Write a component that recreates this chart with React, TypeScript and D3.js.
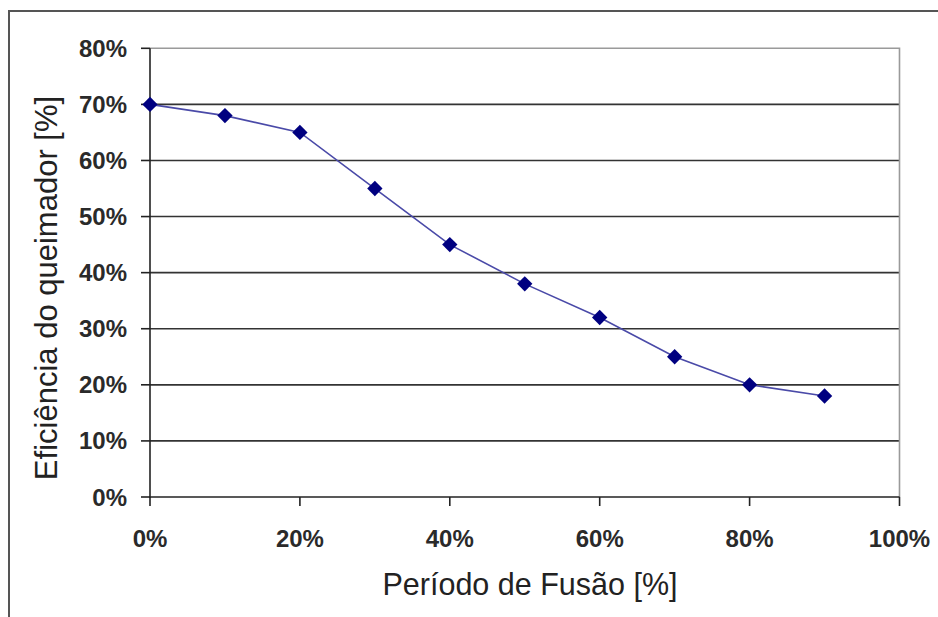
import React from 'react';
import * as d3 from 'd3';

const periodo = [0, 10, 20, 30, 40, 50, 60, 70, 80, 90];
const eficiencia = [70, 68, 65, 55, 45, 38, 32, 25, 20, 18];
const yTicks = [0, 10, 20, 30, 40, 50, 60, 70, 80];
const xTicks = [0, 20, 40, 60, 80, 100];

const W = 938;
const H = 617;
const plot = { left: 150, right: 899.5, top: 48.3, bottom: 497 };
const font = "'Liberation Sans', Arial, sans-serif";

export default function App() {
  const x = d3.scaleLinear().domain([0, 100]).range([plot.left, plot.right]);
  const y = d3.scaleLinear().domain([0, 80]).range([plot.bottom, plot.top]);

  const line = d3.line<number>()
    .x((_, i) => x(periodo[i]))
    .y(d => y(d));

  const diamond = d3.symbol().type(d3.symbolDiamond2).size(150)();

  return (
    <svg width={W} height={H} style={{ position: 'absolute', left: 0, top: 0, background: '#fff' }}>
      {/* outer frame */}
      <path d={`M9,${H} V11 H${W}`} fill="none" stroke="#555" strokeWidth={2} />

      {/* gridlines */}
      {yTicks.filter(t => t > 0 && t < 80).map(t => (
        <line key={t} x1={plot.left} x2={plot.right} y1={y(t)} y2={y(t)} stroke="#333" strokeWidth={1.6} />
      ))}
      {/* plot area border (top/right) */}
      <path d={`M${plot.left},${plot.top} H${plot.right} V${plot.bottom}`} fill="none" stroke="#9a9a9a" strokeWidth={1.6} />

      {/* axes */}
      <line x1={plot.left} x2={plot.left} y1={plot.top} y2={plot.bottom + 1} stroke="#222" strokeWidth={1.6} />
      <line x1={plot.left - 1} x2={plot.right} y1={plot.bottom} y2={plot.bottom} stroke="#222" strokeWidth={1.6} />

      {/* y ticks + labels */}
      {yTicks.map(t => (
        <g key={t}>
          <line x1={plot.left - 9} x2={plot.left} y1={y(t)} y2={y(t)} stroke="#222" strokeWidth={1.6} />
          <text x={127} y={y(t) + 8.5} textAnchor="end" fontFamily={font} fontWeight="bold" fontSize={24} fill="#2a2a2a">
            {t}%
          </text>
        </g>
      ))}

      {/* x ticks + labels */}
      {xTicks.map(t => (
        <g key={t}>
          <line x1={x(t)} x2={x(t)} y1={plot.bottom} y2={plot.bottom + 9} stroke="#222" strokeWidth={1.6} />
          <text x={x(t)} y={547} textAnchor="middle" fontFamily={font} fontWeight="bold" fontSize={24} fill="#2a2a2a">
            {t}%
          </text>
        </g>
      ))}

      {/* series */}
      <path d={line(eficiencia) ?? ''} fill="none" stroke="#4a4aa8" strokeWidth={1.6} />
      {eficiencia.map((v, i) => (
        <path key={i} d={diamond ?? ''} transform={`translate(${x(periodo[i])},${y(v)})`} fill="#000080" />
      ))}

      {/* axis titles */}
      <text x={530} y={595} textAnchor="middle" fontFamily={font} fontSize={30.5} fill="#222">
        Período de Fusão [%]
      </text>
      <text transform={`translate(57,${288}) rotate(-90)`} textAnchor="middle" fontFamily={font} fontSize={31} fill="#222">
        Eficiência do queimador [%]
      </text>
    </svg>
  );
}
